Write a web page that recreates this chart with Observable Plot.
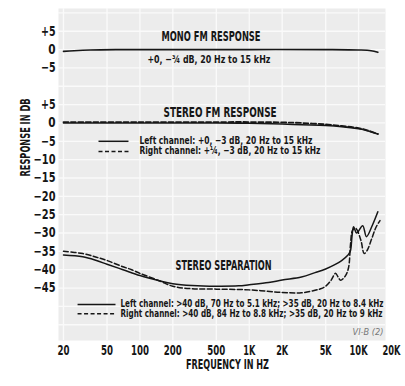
<!DOCTYPE html>
<html><head><meta charset="utf-8">
<script src="https://cdn.jsdelivr.net/npm/d3@7"></script>
<script src="https://cdn.jsdelivr.net/npm/@observablehq/plot@0.6"></script>
<style>html,body{margin:0;padding:0;background:#fff} svg{display:block}</style>
</head><body><div id="chart"></div>
<script>
const FONT = "'DejaVu Sans Condensed', 'DejaVu Sans', sans-serif";

// Axis ticks
const xTickValues = [20, 50, 100, 200, 500, 1000, 2000, 5000, 10000, 20000];
const xTickLabels = ["20", "50", "100", "200", "500", "1K", "2K", "5K", "10K", "20K"];
const yTickValues = [25, 20, 15, 5, 0, -5, -10, -15, -20, -25, -30, -35, -40, -45];
const yTickLabels = ["+5", "0", "−5", "+5", "0", "−5", "−10", "−15", "−20", "−25", "−30", "−35", "−40", "−45"];
const monoOffset = 20; // mono panel drawn 20 dB above the stereo scale

// Mono FM response (dB)
const monoFreq = [20, 25, 35, 60, 200, 1000, 5000, 10000, 13000, 15000];
const monoDb   = [-0.5, -0.3, -0.1, 0, 0, 0, 0, -0.1, -0.3, -0.75];

// Stereo FM response (dB)
const stLeftFreq  = [20, 100, 500, 1000, 2000, 3000, 5000, 7000, 10000, 12000, 15000];
const stLeftDb    = [0, 0, 0, -0.1, -0.3, -0.5, -0.7, -1.0, -1.6, -2.1, -3];
const stRightFreq = [20, 100, 500, 1000, 2000, 3000, 5000, 7000, 10000, 12000, 15000];
const stRightDb   = [0.25, 0.25, 0.25, 0.25, 0.15, 0, -0.4, -0.8, -1.4, -2.0, -3];

// Stereo separation (dB)
const sepLeftFreq = [20, 30, 40, 50, 70, 100, 150, 200, 300, 500, 800, 1000, 1500, 2000, 3000, 4000, 5000, 6000, 7000, 8000, 8400, 8700, 9000, 9600, 10900, 11800, 13400, 15000];
const sepLeftDb   = [-36, -36.5, -37.5, -38.5, -40, -41.6, -43, -43.8, -44.3, -44.5, -44.4, -44.1, -43.5, -42.8, -42, -40.8, -39.8, -38.7, -37.5, -36, -35, -31, -28.3, -30, -28, -31, -27.8, -24.2];
const sepRightFreq = [20, 30, 40, 50, 70, 84, 100, 150, 200, 300, 500, 1000, 2000, 3000, 4000, 4500, 5000, 5600, 6150, 6500, 6850, 7600, 8100, 8450, 8800, 9400, 10500, 11250, 12000, 13200, 14400, 15700];
const sepRightDb   = [-35, -35.6, -36.6, -37.5, -39.2, -40, -41, -43, -44.5, -45.2, -45.3, -45.5, -46.2, -46.3, -45.6, -45.2, -44.5, -42.9, -41, -42, -42.9, -41.6, -39.4, -32.8, -29.3, -28.7, -32, -35.6, -34.7, -31.5, -28.5, -26.6];

// Texts
const monoTitle = "MONO FM RESPONSE";
const monoNote = "+0, −¾ dB, 20 Hz to 15 kHz";
const stereoTitle = "STEREO FM RESPONSE";
const stereoLegend = ["Left channel: +0, −3 dB, 20 Hz to 15 kHz", "Right channel: +¼, −3 dB, 20 Hz to 15 kHz"];
const sepTitle = "STEREO SEPARATION";
const sepLegend = ["Left channel: >40 dB, 70 Hz to 5.1 kHz; >35 dB, 20 Hz to 8.4 kHz", "Right channel: >40 dB, 84 Hz to 8.8 kHz; >35 dB, 20 Hz to 9 kHz"];
const figRef = "VI-B (2)";
const xTitle = "FREQUENCY IN HZ";
const yTitle = "RESPONSE IN DB";

// rendered text widths (px) to mimic the condensed typeface of the original
const textWidths = new Map([
  [monoTitle, 99], [monoNote, 123], [stereoTitle, 113],
  [stereoLegend[0], 173], [stereoLegend[1], 181],
  [sepTitle, 96], [sepLegend[0], 263], [sepLegend[1], 262],
  [figRef, 31], [xTitle, 83], [yTitle, 78]
]);
xTickLabels.forEach(s => textWidths.set(s, s.length * 6));
yTickLabels.forEach(s => textWidths.set(s, s.length * 7.3));

const rows = (fs, ds, off = 0) => fs.map((f, i) => ({f, v: ds[i] + off}));

const gridY = d3.range(-55, 31, 5);
const gridX = xTickValues.filter(d => d < 20000);

const ink = "#161616";
const bold = {fontWeight: "bold", fill: ink};

const chart = Plot.plot({
  width: 405, height: 386,
  marginLeft: 63, marginRight: 14, marginTop: 8, marginBottom: 46,
  style: {fontFamily: FONT, background: "#fff"},
  x: {type: "log", domain: [20, 20000], axis: null},
  y: {domain: [-59.3, 31.2], axis: null},
  marks: [
    Plot.frame({fill: "#ececec", stroke: null, insetLeft: -5, insetRight: 6}),
    Plot.ruleY(gridY, {stroke: "#fafafa", strokeWidth: 1.3, insetLeft: -5, insetRight: 6}),
    Plot.ruleX(gridX, {stroke: "#fafafa", strokeWidth: 1.3}),
    // tick labels
    Plot.text(xTickValues, {x: d => d, frameAnchor: "bottom", dy: 14, text: (d, i) => xTickLabels[i], fontSize: 13.5, ...bold}),
    Plot.text(yTickValues, {y: d => d, frameAnchor: "left", dx: -8, textAnchor: "end", text: (d, i) => yTickLabels[i], fontSize: 13.5, ...bold}),
    // curves
    Plot.line(rows(monoFreq, monoDb, monoOffset), {x: "f", y: "v", stroke: ink, strokeWidth: 1.6, curve: "catmull-rom"}),
    Plot.line(rows(stLeftFreq, stLeftDb), {x: "f", y: "v", stroke: ink, strokeWidth: 1.6, curve: "catmull-rom"}),
    Plot.line(rows(stRightFreq, stRightDb), {x: "f", y: "v", stroke: ink, strokeWidth: 1.8, strokeDasharray: "5,2.5", curve: "catmull-rom"}),
    Plot.line(rows(sepLeftFreq, sepLeftDb), {x: "f", y: "v", stroke: ink, strokeWidth: 1.5, curve: "catmull-rom"}),
    Plot.line(rows(sepRightFreq, sepRightDb), {x: "f", y: "v", stroke: ink, strokeWidth: 1.5, strokeDasharray: "5,2.5", curve: "catmull-rom"}),
    // titles
    Plot.text([monoTitle], {x: 447, y: 23.6, text: d => d, fontSize: 13.5, ...bold}),
    Plot.text([monoNote], {x: 117, y: 17.3, text: d => d, fontSize: 11, textAnchor: "start", ...bold}),
    Plot.text([stereoTitle], {x: 541, y: 2.9, text: d => d, fontSize: 13.5, ...bold}),
    Plot.text([sepTitle], {x: 582, y: -38.8, text: d => d, fontSize: 13.5, ...bold}),
    // stereo FM legend
    Plot.link([0], {x1: 41.8, x2: 78.6, y1: -5.0, y2: -5.0, stroke: ink, strokeWidth: 1.5}),
    Plot.link([0], {x1: 41.8, x2: 78.6, y1: -7.8, y2: -7.8, stroke: ink, strokeWidth: 1.5, strokeDasharray: "4,2.5"}),
    Plot.text(stereoLegend, {x: 99, y: (d, i) => i === 0 ? -4.8 : -7.6, text: d => d, fontSize: 10.5, textAnchor: "start", ...bold}),
    // separation legend
    Plot.link([0], {x1: 26.9, x2: 59.8, y1: -49.5, y2: -49.5, stroke: ink, strokeWidth: 1.5}),
    Plot.link([0], {x1: 26.9, x2: 59.8, y1: -52.0, y2: -52.0, stroke: ink, strokeWidth: 1.5, strokeDasharray: "4,2.5"}),
    Plot.text(sepLegend, {x: 66.4, y: (d, i) => i === 0 ? -49.3 : -52.0, text: d => d, fontSize: 10, textAnchor: "start", ...bold}),
    Plot.text([figRef], {x: 16900, y: -57.1, text: d => d, fontSize: 9.5, fontStyle: "italic", textAnchor: "end", fill: "#777"}),
    // axis titles
    Plot.text([xTitle], {frameAnchor: "bottom", dy: 28, text: d => d, fontSize: 13.5, ...bold}),
    Plot.text([yTitle], {frameAnchor: "left", dx: -38, dy: 2, rotate: -90, text: d => d, fontSize: 13.5, ...bold})
  ]
});
chart.querySelectorAll("text").forEach(t => {
  const w = textWidths.get(t.textContent);
  if (w) { t.setAttribute("textLength", w); t.setAttribute("lengthAdjust", "spacingAndGlyphs"); }
});
document.getElementById("chart").appendChild(chart);
</script>
</body></html>
